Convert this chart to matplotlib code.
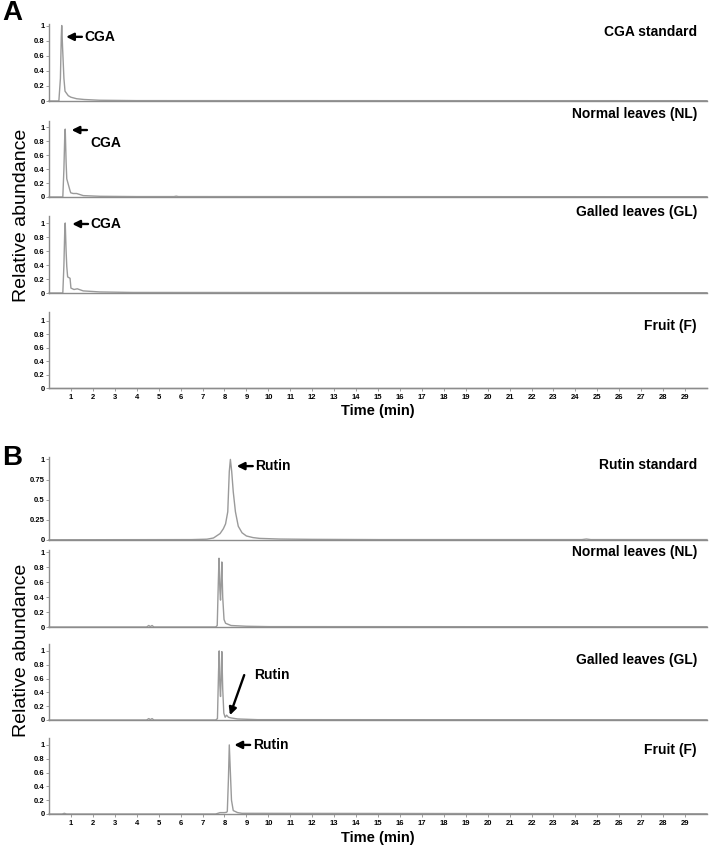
import matplotlib
matplotlib.use("Agg")
import matplotlib.pyplot as plt
from matplotlib.ticker import FixedLocator

plt.rcParams['font.family'] = ['Liberation Sans', 'DejaVu Sans']

# ---------------- data ----------------
# Panel A (CGA)
a_std_t = [0, 0.45, 0.52, 0.56, 0.58, 0.62, 0.68, 0.73, 0.88, 1.0, 1.26, 1.6, 2.3, 4, 30]
a_std_v = [0, 0, 0.3, 0.85, 1.0, 0.7, 0.3, 0.13, 0.07, 0.05, 0.03, 0.02, 0.01, 0.005, 0.004]

a_nl_t = [0, 0.63, 0.68, 0.72, 0.74, 0.78, 0.81, 0.88, 0.95, 0.99, 1.1, 1.26, 1.56, 2.33, 4, 5.7, 5.8, 5.9, 30]
a_nl_v = [0, 0, 0.4, 0.9, 0.97, 0.5, 0.26, 0.18, 0.1, 0.06, 0.05, 0.05, 0.02, 0.01, 0.006, 0.006, 0.012, 0.006, 0.004]

a_gl_t = [0, 0.63, 0.68, 0.72, 0.74, 0.78, 0.81, 0.85, 0.96, 1.0, 1.14, 1.29, 1.56, 2.33, 3.8, 30]
a_gl_v = [0, 0, 0.4, 0.92, 1.0, 0.6, 0.38, 0.23, 0.21, 0.07, 0.05, 0.06, 0.03, 0.015, 0.008, 0.004]

a_f_t = [0, 30]
a_f_v = [0, 0]

# Panel B (Rutin)
b_std_t = [0, 6.5, 7.2, 7.5, 7.8, 7.95, 8.05, 8.15, 8.22, 8.27, 8.33, 8.40, 8.5, 8.63,
           8.8, 9.0, 9.3, 9.6, 10.5, 12, 15, 24.3, 24.5, 24.7, 30]
b_std_v = [0.003, 0.005, 0.01, 0.025, 0.08, 0.14, 0.2, 0.35, 0.85, 1.0, 0.85, 0.6, 0.35, 0.17,
           0.09, 0.05, 0.03, 0.02, 0.012, 0.008, 0.005, 0.005, 0.012, 0.005, 0.005]

b_nl_t = [0, 4.45, 4.55, 4.62, 4.7, 4.78, 7.6, 7.67, 7.72, 7.75, 7.79, 7.82, 7.85, 7.88, 7.92,
          7.98, 8.05, 8.3, 9.0, 10, 30]
b_nl_v = [0, 0, 0.02, 0.005, 0.02, 0, 0, 0.02, 0.6, 0.92, 0.5, 0.36, 0.6, 0.87, 0.4,
          0.1, 0.05, 0.02, 0.01, 0.005, 0.003]

b_gl_t = [0, 4.45, 4.55, 4.62, 4.7, 4.78, 7.6, 7.68, 7.73, 7.76, 7.79, 7.82, 7.85, 7.88, 7.92,
          7.97, 8.03, 8.10, 8.18, 8.3, 8.6, 9.5, 30]
b_gl_v = [0, 0, 0.02, 0.005, 0.02, 0, 0, 0.02, 0.7, 1.0, 0.5, 0.34, 0.6, 0.99, 0.45,
          0.1, 0.04, 0.07, 0.04, 0.03, 0.015, 0.005, 0.003]

b_f_t = [0, 0.6, 0.7, 0.8, 7.6, 7.8, 8.0, 8.1, 8.13, 8.18, 8.22, 8.27, 8.32, 8.4, 8.6, 8.8, 30]
b_f_v = [0, 0, 0.01, 0, 0, 0.02, 0.02, 0.025, 0.04, 0.5, 1.0, 0.6, 0.2, 0.05, 0.02, 0.01, 0.003]

x_ticks = list(range(1, 30))
a_yticks = [0, 0.2, 0.4, 0.6, 0.8, 1]
a_ylabels = ['0', '0.2', '0.4', '0.6', '0.8', '1']
b1_yticks = [0, 0.25, 0.5, 0.75, 1]
b1_ylabels = ['0', '0.25', '0.5', '0.75', '1']

a_names = ['CGA standard', 'Normal leaves (NL)', 'Galled leaves (GL)', 'Fruit (F)']
b_names = ['Rutin standard', 'Normal leaves (NL)', 'Galled leaves (GL)', 'Fruit (F)']

# ---------------- layout ----------------
W, H = 709, 850
fig = plt.figure(figsize=(W / 100, H / 100), dpi=100)

LINE = '#9a9a9a'
SPINE = '#8c8c8c'
left_px, right_px = 49, 707

# (top px, zero-line px, ylim top)
a_rows = [(24, 101, 1.02), (121, 197, 1.086), (216, 293, 1.10), (312, 388, 1.13)]
b_rows = [(457, 540, 1.03), (550, 627, 1.03), (644, 720, 1.10), (738, 814, 1.10)]


def make_ax(top, bot, ytop):
    ax = fig.add_axes([left_px / W, 1 - bot / H, (right_px - left_px) / W, (bot - top) / H])
    ax.set_xlim(0, 30)
    ax.set_ylim(0, ytop)
    for s in ['top', 'right']:
        ax.spines[s].set_visible(False)
    for s in ['left', 'bottom']:
        ax.spines[s].set_color(SPINE)
        ax.spines[s].set_linewidth(1.0)
    ax.tick_params(axis='y', length=2, width=0.6, colors=SPINE, labelsize=5.5,
                   labelcolor='black', pad=1)
    ax.tick_params(axis='x', length=2.5, width=0.6, colors=SPINE, labelsize=5.5,
                   labelcolor='black', pad=2)
    ax.set_facecolor('none')
    return ax


def draw_panel(rows, traces, names, name_y, yt_first, bottom_label_y):
    axes = []
    for i, ((top, bot, ytop), (t, v)) in enumerate(zip(rows, traces)):
        ax = make_ax(top, bot, ytop)
        ax.plot(t, v, color=LINE, lw=1.0, clip_on=False)
        if i == 0 and yt_first is not None:
            ax.yaxis.set_major_locator(FixedLocator(yt_first[0]))
            ax.set_yticklabels(yt_first[1], fontweight='bold')
        else:
            ax.yaxis.set_major_locator(FixedLocator(a_yticks))
            ax.set_yticklabels(a_ylabels, fontweight='bold')
        if i == len(rows) - 1:
            ax.xaxis.set_major_locator(FixedLocator(x_ticks))
            ax.set_xticklabels([str(x) for x in x_ticks], fontweight='bold')
        else:
            ax.set_xticks([])
        axes.append(ax)
    for nm, y in zip(names, name_y):
        fig.text(697 / W, 1 - y / H, nm, ha='right', va='center', fontsize=10,
                 fontweight='bold')
    fig.text(378 / W, 1 - bottom_label_y / H, 'Time (min)', ha='center', va='center',
             fontsize=10.5, fontweight='bold')
    return axes


axA = draw_panel(a_rows, [(a_std_t, a_std_v), (a_nl_t, a_nl_v), (a_gl_t, a_gl_v), (a_f_t, a_f_v)],
                 a_names, [32, 114, 212, 326], None, 411)
axB = draw_panel(b_rows, [(b_std_t, b_std_v), (b_nl_t, b_nl_v), (b_gl_t, b_gl_v), (b_f_t, b_f_v)],
                 b_names, [465, 552, 660, 750], (b1_yticks, b1_ylabels), 838)

fig.text(22 / W, 1 - 215 / H, 'Relative abundance', rotation=90, ha='center', va='center',
         fontsize=14)
fig.text(22 / W, 1 - 650 / H, 'Relative abundance', rotation=90, ha='center', va='center',
         fontsize=14)

fig.text(2 / W, 1 - 13 / H, 'A', ha='left', va='center', fontsize=20, fontweight='bold')
fig.text(2 / W, 1 - 458 / H, 'B', ha='left', va='center', fontsize=20, fontweight='bold')

# ---------------- annotations ----------------
AP = dict(arrowstyle='-|>', color='black', lw=1.7, mutation_scale=11, shrinkA=0, shrinkB=0)


def arrow(ax, head, tail, text, text_xy):
    ax.annotate('', xy=head, xytext=tail, arrowprops=AP, annotation_clip=False)
    ax.text(text_xy[0], text_xy[1], text, ha='left', va='center', fontsize=10,
            fontweight='bold', clip_on=False)


arrow(axA[0], (0.78, 0.85), (1.5, 0.85), 'CGA', (1.62, 0.85))
arrow(axA[1], (1.03, 0.957), (1.73, 0.957), 'CGA', (1.87, 0.77))
arrow(axA[2], (1.06, 0.986), (1.78, 0.986), 'CGA', (1.87, 0.986))
arrow(axB[0], (8.56, 0.917), (9.29, 0.917), 'Rutin', (9.42, 0.917))
arrow(axB[2], (8.25, 0.07), (8.9, 0.65), 'Rutin', (9.35, 0.65))
arrow(axB[3], (8.45, 1.0), (9.17, 1.0), 'Rutin', (9.3, 1.0))

fig.savefig('out.png', dpi=100)
